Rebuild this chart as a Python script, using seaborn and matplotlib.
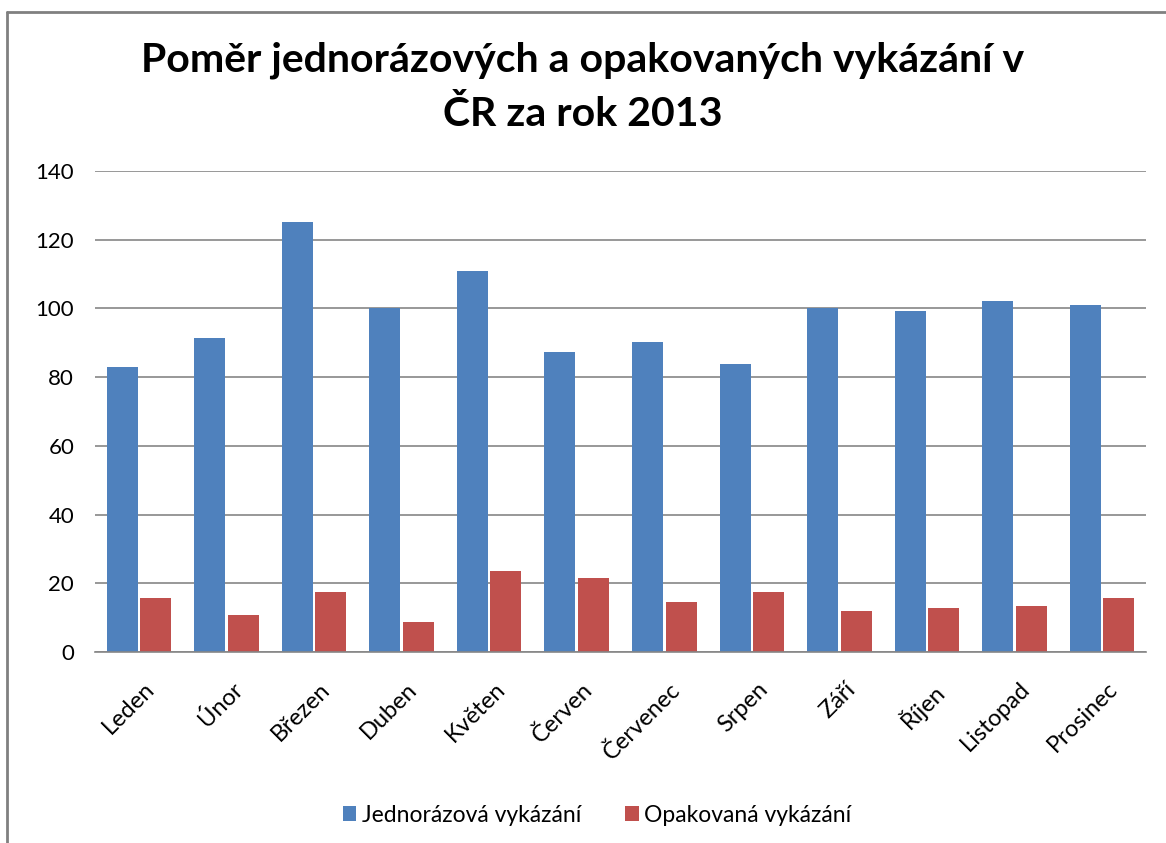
import pandas as pd
import matplotlib
matplotlib.use("Agg")
import matplotlib.pyplot as plt
import matplotlib.transforms as mtransforms
from matplotlib.lines import Line2D
import seaborn as sns

# data
mesice = ["Leden", "Únor", "Březen", "Duben", "Květen", "Červen",
          "Červenec", "Srpen", "Září", "Říjen", "Listopad", "Prosinec"]
jednorazova = [83, 91.4, 125.2, 100, 110.9, 87.3, 90.2, 83.8, 100, 99.2, 102.1, 101]
opakovana = [15.8, 10.8, 17.5, 8.8, 23.6, 21.6, 14.6, 17.5, 12, 12.8, 13.4, 15.8]
serie = ["Jednorázová vykázání", "Opakovaná vykázání"]
yticks = [0, 20, 40, 60, 80, 100, 120, 140]

df = pd.DataFrame({
    "mesic": mesice * 2,
    "hodnota": jednorazova + opakovana,
    "rada": [serie[0]] * len(mesice) + [serie[1]] * len(mesice),
})

sns.set_style("white")
plt.rcParams["font.family"] = ["Lato", "DejaVu Sans"]
plt.rcParams["text.color"] = "black"
plt.rcParams["xtick.color"] = "black"
plt.rcParams["ytick.color"] = "black"

W, H = 1166, 843
fig = plt.figure(figsize=(W / 100, H / 100), dpi=100)
ax = fig.add_axes([95 / W, 1 - 652 / H, (1146 - 95) / W, (652 - 171) / H])

sns.barplot(data=df, x="mesic", y="hodnota", hue="rada",
            palette=["#4F81BD", "#C0504D"], width=0.765, gap=0.075,
            saturation=1, linewidth=0, ax=ax)

# axes look
ax.set_ylim(0, 140)
ax.set_yticks(yticks)
ax.set_xlim(-0.5, len(mesice) - 0.5)
ax.yaxis.grid(True, color="#868686", linewidth=1.2)
ax.set_axisbelow(True)
for s in ["left", "right", "top"]:
    ax.spines[s].set_visible(False)
ax.spines["bottom"].set_color("#868686")
ax.spines["bottom"].set_linewidth(1.2)
ax.set_xlabel("")
ax.set_ylabel("")
ax.tick_params(axis="y", length=0, pad=15, labelsize=16, labelcolor="black")
ax.tick_params(axis="x", length=0, pad=19, labelsize=17, labelcolor="black")

offset = mtransforms.ScaledTranslation(5 / 100, 0, fig.dpi_scale_trans)
for lbl in ax.get_xticklabels():
    lbl.set_rotation(45)
    lbl.set_ha("right")
    lbl.set_va("top")
    lbl.set_rotation_mode("anchor")
    lbl.set_transform(lbl.get_transform() + offset)

# legend at the bottom
handles, labels = ax.get_legend_handles_labels()
ax.legend_.remove()
fig.legend(handles, labels, loc="center", bbox_to_anchor=(597 / W, 1 - 815 / H),
           ncol=2, frameon=False, fontsize=16.5, handlelength=0.6,
           handleheight=0.6, handletextpad=0.25, columnspacing=1.9,
           labelcolor="black")

# title
fig.text(0.5, 1 - 60 / H, "Poměr jednorázových a opakovaných vykázání v",
         ha="center", va="center", fontsize=29.5, fontweight="bold", color="black")
fig.text(0.5, 1 - 114 / H, "ČR za rok 2013",
         ha="center", va="center", fontsize=29.5, fontweight="bold", color="black")

# chart frame (left and top edges only)
fig.add_artist(Line2D([7 / W, 7 / W], [0, 1 - 12 / H], transform=fig.transFigure,
                      color="#808080", linewidth=2))
fig.add_artist(Line2D([7 / W, 1], [1 - 12 / H, 1 - 12 / H], transform=fig.transFigure,
                      color="#808080", linewidth=2))

fig.savefig("out.png", dpi=100)
